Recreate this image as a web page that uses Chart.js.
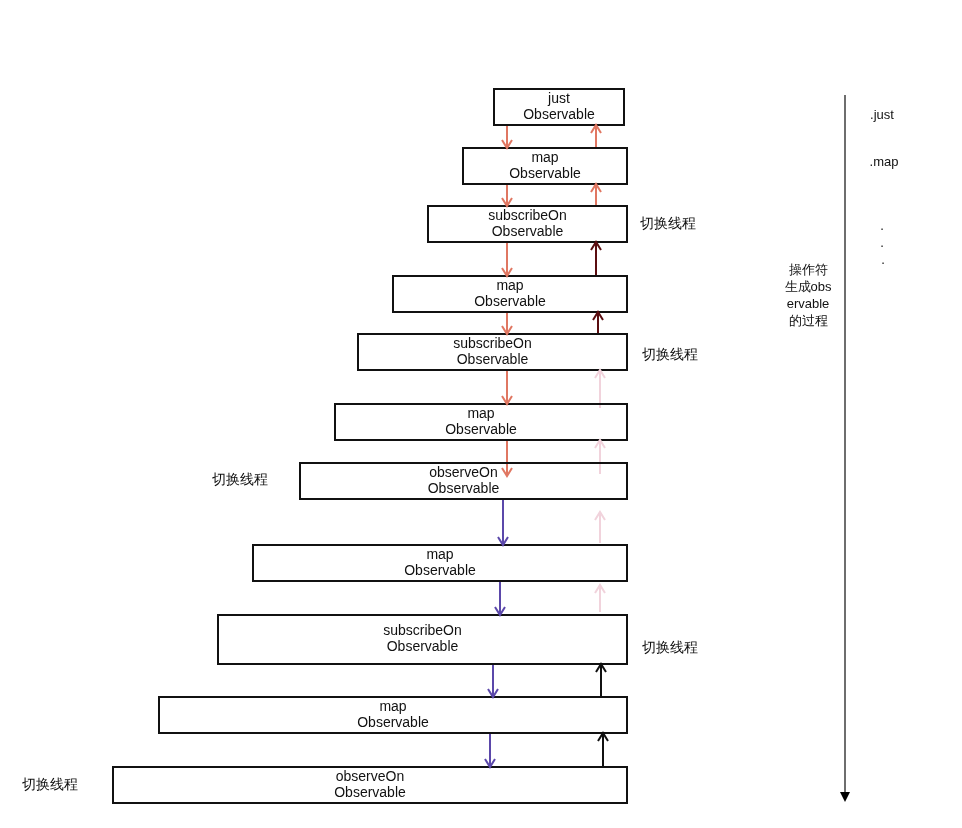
<!DOCTYPE html>
<html>
<head>
<meta charset="utf-8">
<script src="https://cdn.jsdelivr.net/npm/chart.js@4"></script>
<style>
  body { margin: 0; background: #fff; }
  #wrap { width: 962px; height: 828px; }
</style>
</head>
<body>
<div id="wrap"><canvas id="chart"></canvas></div>
<script>
// Boxes (one per operator Observable), in diagram units
const boxNames = ['just', 'map', 'subscribeOn', 'map', 'subscribeOn', 'map', 'observeOn', 'map', 'subscribeOn', 'map', 'observeOn'];
const boxLeft = [494, 463, 428, 393, 358, 335, 300, 253, 218, 159, 113];
const boxRight = [624, 627, 627, 627, 627, 627, 627, 627, 627, 627, 627];
const boxTop = [89, 148, 206, 276, 334, 404, 463, 545, 615, 697, 767];
const boxBottom = [125, 184, 242, 312, 370, 440, 499, 581, 664, 733, 803];

// Arrows between boxes: x, start y, tip y, colour group
const arrowX = [507, 507, 507, 507, 507, 507, 503, 500, 493, 490, 603, 601, 600, 600, 600, 600, 598, 596, 596, 596];
const arrowFrom = [125, 184, 242, 312, 370, 440, 499, 581, 664, 733, 767, 697, 612, 543, 474, 408, 334, 276, 206, 148];
const arrowTo = [148, 206, 276, 334, 404, 476, 545, 615, 697, 767, 733, 664, 585, 512, 440, 370, 312, 242, 184, 125];
const arrowKind = ['red', 'red', 'red', 'red', 'red', 'red', 'purple', 'purple', 'purple', 'purple',
  'black', 'black', 'pink', 'pink', 'pink', 'pink', 'dark', 'dark', 'red', 'red'];

// "switch thread" notes
const switchText = '切换线程';
const switchX = [668, 670, 240, 670, 50];
const switchY = [224, 355, 480, 648, 785];

// Right-hand timeline
const timelineX = 845;
const timelineFrom = 95;
const timelineTo = 802;
const opLabels = ['.just', '.map', '.', '.', '.'];
const opX = [882, 884, 882, 882, 883];
const opY = [115, 162, 226, 243, 260];
const sideLines = ['操作符', '生成obs', 'ervable', '的过程'];
const sideX = 808;
const sideY = [270, 287, 304, 321];

const kindColor = {
  red: '#e07762',
  purple: '#5b48aa',
  black: '#111111',
  pink: '#f1d3dc',
  dark: '#5a0d10',
};

const FONT = '"Liberation Sans", Arial, sans-serif';

// box outlines as one line dataset with gaps
const boxPoints = [];
boxNames.forEach((name, i) => {
  const l = boxLeft[i], r = boxRight[i], t = boxTop[i], b = boxBottom[i];
  boxPoints.push({ x: l, y: t }, { x: r, y: t }, { x: r, y: b }, { x: l, y: b }, { x: l, y: t }, { x: r, y: t });
  boxPoints.push({ x: l, y: null });
});

const datasets = [
  {
    label: 'boxes',
    data: boxPoints,
    showLine: true,
    borderColor: '#111',
    borderWidth: 2,
    borderJoinStyle: 'miter',
    pointRadius: 0,
    spanGaps: false,
  },
  {
    label: 'timeline',
    data: [{ x: timelineX, y: timelineFrom }, { x: timelineX, y: timelineTo - 8 }],
    showLine: true,
    borderColor: '#6e6e6e',
    borderWidth: 2,
    pointRadius: 0,
  },
];

arrowX.forEach((x, i) => {
  datasets.push({
    label: 'arrow' + i,
    data: [{ x: x, y: arrowFrom[i] }, { x: x, y: arrowTo[i] }],
    showLine: true,
    borderColor: kindColor[arrowKind[i]],
    borderWidth: 2,
    pointRadius: 0,
  });
});

const decorPlugin = {
  id: 'decor',
  afterDatasetsDraw(chart) {
    const ctx = chart.ctx;
    const xs = chart.scales.x;
    const ys = chart.scales.y;
    ctx.save();

    // chevron arrow heads
    arrowX.forEach((x, i) => {
      const px = xs.getPixelForValue(x);
      const py = ys.getPixelForValue(arrowTo[i]);
      const dir = arrowTo[i] > arrowFrom[i] ? 1 : -1;
      ctx.strokeStyle = kindColor[arrowKind[i]];
      ctx.lineWidth = 2;
      ctx.lineJoin = 'miter';
      ctx.beginPath();
      ctx.moveTo(px - 5, py - dir * 8);
      ctx.lineTo(px, py);
      ctx.lineTo(px + 5, py - dir * 8);
      ctx.stroke();
    });

    // timeline head
    const tx = xs.getPixelForValue(timelineX);
    const ty = ys.getPixelForValue(timelineTo);
    ctx.fillStyle = '#000';
    ctx.beginPath();
    ctx.moveTo(tx - 5, ty - 10);
    ctx.lineTo(tx + 5, ty - 10);
    ctx.lineTo(tx, ty);
    ctx.closePath();
    ctx.fill();

    // box texts
    ctx.fillStyle = '#111';
    ctx.textAlign = 'center';
    ctx.textBaseline = 'middle';
    ctx.font = '14px ' + FONT;
    boxNames.forEach((name, i) => {
      const cx = xs.getPixelForValue((boxLeft[i] + boxRight[i]) / 2);
      const cy = ys.getPixelForValue((boxTop[i] + boxBottom[i]) / 2);
      ctx.fillText(name, cx, cy - 8);
      ctx.fillText('Observable', cx, cy + 8);
    });

    // switch notes
    switchX.forEach((x, i) => {
      ctx.fillText(switchText, xs.getPixelForValue(x), ys.getPixelForValue(switchY[i]));
    });

    // timeline labels
    ctx.font = '13px ' + FONT;
    opLabels.forEach((t, i) => {
      ctx.fillText(t, xs.getPixelForValue(opX[i]), ys.getPixelForValue(opY[i]));
    });
    sideLines.forEach((t, i) => {
      ctx.fillText(t, xs.getPixelForValue(sideX), ys.getPixelForValue(sideY[i]));
    });

    ctx.restore();
  },
};

new Chart(document.getElementById('chart').getContext('2d'), {
  type: 'scatter',
  data: { datasets: datasets },
  options: {
    responsive: true,
    maintainAspectRatio: false,
    animation: false,
    layout: { padding: 0 },
    plugins: { legend: { display: false }, tooltip: { enabled: false } },
    scales: {
      x: { type: 'linear', min: 0, max: 962, display: false },
      y: { type: 'linear', min: 0, max: 828, reverse: true, display: false },
    },
  },
  plugins: [decorPlugin],
});
</script>
</body>
</html>
